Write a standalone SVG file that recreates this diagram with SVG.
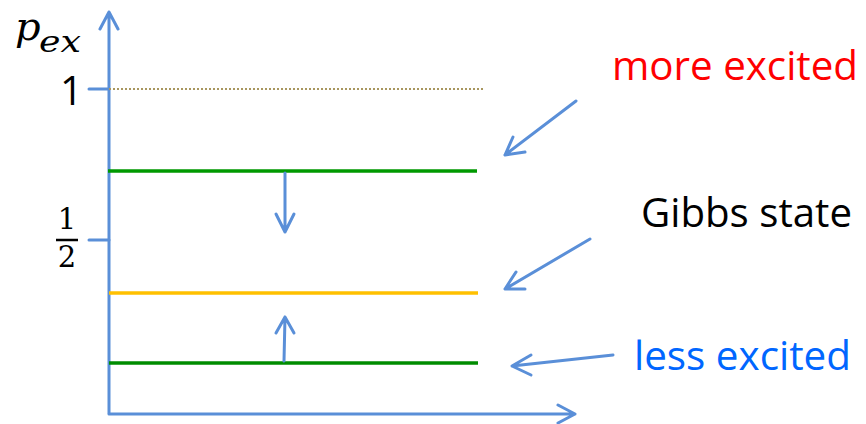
<svg xmlns="http://www.w3.org/2000/svg" width="866" height="424" viewBox="0 0 866 424">
<style>
.ax{stroke:#5A8FD8;stroke-width:3;fill:none;stroke-linecap:round;stroke-linejoin:round}
.arr{stroke:#5A8FD8;stroke-width:3;fill:none;stroke-linecap:round;stroke-linejoin:round}
.lvl{stroke-width:3.5;fill:none}
.lbl{font-family:"Open Sans","Noto Sans","Liberation Sans",sans-serif;font-size:40px}
.math{font-family:"DejaVu Serif","Liberation Serif",serif}
</style>
<rect width="866" height="424" fill="#fff"/>
<g id="axes">
<path class="ax" d="M109,413 V12 M100,29 L109,12 L118,29"/>
<path class="ax" d="M109,414 H575 M558,405 L575,414 L558,423"/>
<path class="ax" d="M89,89 H109 M89,240 H109"/>
</g>
<g id="ylabel">
<text class="math" x="15" y="40" font-size="40" font-style="italic">p</text>
<text class="math" x="39" y="52" font-size="29" font-style="italic" textLength="42" lengthAdjust="spacingAndGlyphs">ex</text>
</g>
<g id="tick1"><text class="lbl" x="60" y="105" font-size="41">1</text></g>
<g id="tickhalf">
<text x="67" y="229" font-family="DejaVu Serif,serif" font-size="29" text-anchor="middle">1</text>
<line x1="56" y1="240" x2="78" y2="240" stroke="#000" stroke-width="2.5"/>
<text x="67" y="267" font-family="DejaVu Serif,serif" font-size="29" text-anchor="middle">2</text>
</g>
<g id="levels">
<line x1="109" y1="89" x2="483" y2="89" stroke="#A8965E" stroke-width="2" stroke-dasharray="2,2"/>
<line class="lvl" x1="108" y1="171" x2="477" y2="171" stroke="#009900"/>
<line class="lvl" x1="109" y1="293" x2="478" y2="293" stroke="#FFC000"/>
<line class="lvl" x1="109" y1="363" x2="478" y2="363" stroke="#008C00"/>
</g>
<g id="connectors">
<path class="arr" d="M285,173 V232 M276,214 L285,232 L294,214"/>
<path class="arr" d="M284,361 L285,317 M276,333 L285,317 L294,333"/>
<path class="arr" d="M576,101 L505,155 M513,137 L505,155 L525,152"/>
<path class="arr" d="M590,239 L505,289 M516,272 L505,289 L525,289"/>
<path class="arr" d="M613,355 L512,366 M531,355 L512,366 L531,375"/>
</g>
<g id="more"><text class="lbl" x="612" y="80" fill="#FF0000" textLength="246" lengthAdjust="spacingAndGlyphs">more excited</text></g>
<g id="gibbs"><text class="lbl" x="641" y="227" fill="#000" textLength="211" lengthAdjust="spacingAndGlyphs">Gibbs state</text></g>
<g id="less"><text class="lbl" x="634" y="370" fill="#0066FF" textLength="217" lengthAdjust="spacingAndGlyphs">less excited</text></g>
</svg>
